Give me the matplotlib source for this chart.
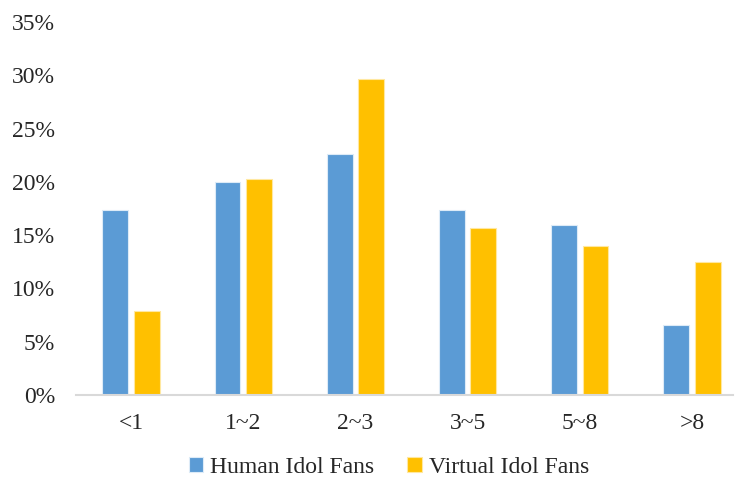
import matplotlib
matplotlib.use("Agg")
import matplotlib.pyplot as plt
import numpy as np
from matplotlib.ticker import FuncFormatter

categories = ["<1", "1~2", "2~3", "3~5", "5~8", ">8"]
human = [17.4, 20.0, 22.6, 17.4, 16.0, 6.6]
virtual = [7.9, 20.3, 29.7, 15.7, 14.0, 12.5]
series_names = ["Human Idol Fans", "Virtual Idol Fans"]
yticks = [0, 5, 10, 15, 20, 25, 30, 35]

plt.rcParams['font.family'] = ['Liberation Serif', 'DejaVu Serif']
text_color = '#262626'

fig = plt.figure(figsize=(7.38, 4.82), dpi=100)
ax = fig.add_axes([76 / 738, 0.1805, (733 - 76) / 738, 0.7735])

x = np.arange(len(categories))
w = 0.229
off = 0.14
ax.bar(x - off, human, width=w, color='#5B9BD5', edgecolor='#DDEBF7', linewidth=0.8, label=series_names[0])
ax.bar(x + off, virtual, width=w, color='#FFC000', edgecolor='#FFE8A0', linewidth=0.8, label=series_names[1])

ax.set_xlim(-0.49, 5.365)
ax.set_ylim(0, 35)
ax.set_yticks(yticks)
ax.yaxis.set_major_formatter(FuncFormatter(lambda v, p: f"{int(v)}%"))
ax.set_xticks(x)
ax.set_xticklabels(categories)

for s in ['top', 'right', 'left']:
    ax.spines[s].set_visible(False)
ax.spines['bottom'].set_color('#D9D9D9')
ax.spines['bottom'].set_linewidth(1.5)

ax.tick_params(axis='y', length=0, pad=15, labelsize=17, labelcolor=text_color)
ax.tick_params(axis='x', length=0, pad=13, labelsize=17, labelcolor=text_color)

fig.legend(loc='center', bbox_to_anchor=(0.527, 0.031), ncol=2, frameon=False,
           fontsize=17, handlelength=0.6, handleheight=0.6, handletextpad=0.3,
           columnspacing=1.4, labelcolor=text_color)

fig.savefig("out.png", dpi=100, facecolor='white')
